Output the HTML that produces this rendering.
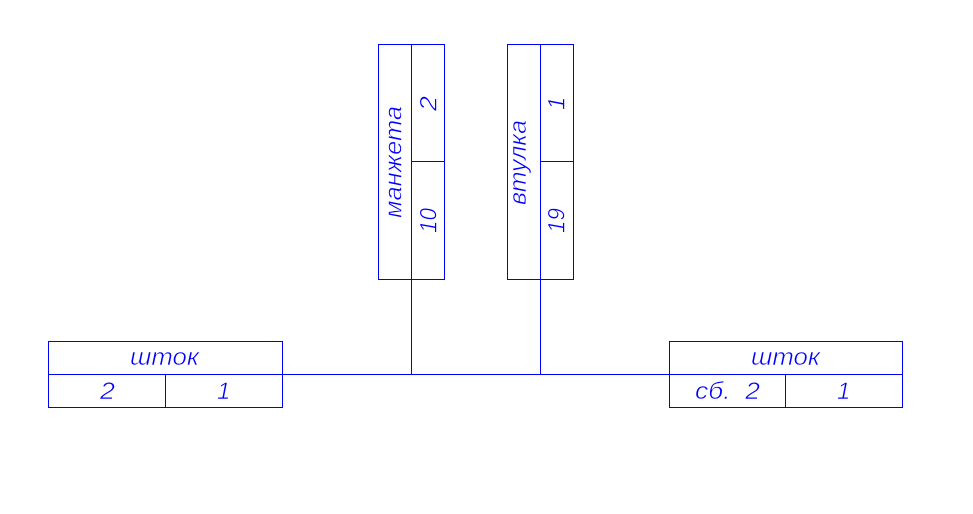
<!DOCTYPE html>
<html>
<head>
<meta charset="utf-8">
<style>
html,body{margin:0;padding:0;background:#fff;width:973px;height:514px;overflow:hidden}
svg{display:block}
.l{stroke:#0000ff;stroke-width:1;fill:none;shape-rendering:crispEdges}
text{font-family:"Liberation Sans","DejaVu Sans",sans-serif;font-style:italic;font-size:24px;fill:#0000ff;stroke:#fff;stroke-width:.55px}
</style>
</head>
<body>
<svg width="973" height="514" viewBox="0 0 973 514" xmlns="http://www.w3.org/2000/svg">
<rect width="973" height="514" fill="#fff"/>
<g class="l">
<rect x="378.5" y="44.5" width="66" height="235"/>
<path d="M411.5 44.5V374.5M411.5 161.5H444.5"/>
<rect x="507.5" y="44.5" width="66" height="235"/>
<path d="M540.5 44.5V374.5M540.5 161.5H573.5"/>
<rect x="48.5" y="341.5" width="234" height="66"/>
<path d="M48.5 374.5H902.5M165.5 374.5V407.5"/>
<rect x="669.5" y="341.5" width="233" height="66"/>
<path d="M785.5 374.5V407.5"/>
</g>
<text x="130" y="365" textLength="69" lengthAdjust="spacingAndGlyphs">шток</text>
<text x="100" y="399" textLength="15" lengthAdjust="spacingAndGlyphs">2</text>
<text x="217" y="399">1</text>
<text x="751" y="365" textLength="69" lengthAdjust="spacingAndGlyphs">шток</text>
<text x="695" y="399" textLength="65" lengthAdjust="spacingAndGlyphs" xml:space="preserve">сб.  2</text>
<text x="837" y="399">1</text>
<text transform="translate(401.5 218) rotate(-90)" textLength="112" lengthAdjust="spacingAndGlyphs">манжета</text>
<text transform="translate(436.5 111) rotate(-90)" textLength="15" lengthAdjust="spacingAndGlyphs">2</text>
<text transform="translate(436.5 233) rotate(-90)" textLength="25" lengthAdjust="spacingAndGlyphs">10</text>
<text transform="translate(526 205) rotate(-90)" textLength="85" lengthAdjust="spacingAndGlyphs">втулка</text>
<text transform="translate(564.5 110) rotate(-90)">1</text>
<text transform="translate(564.5 233) rotate(-90)" textLength="25" lengthAdjust="spacingAndGlyphs">19</text>
</svg>
</body>
</html>
